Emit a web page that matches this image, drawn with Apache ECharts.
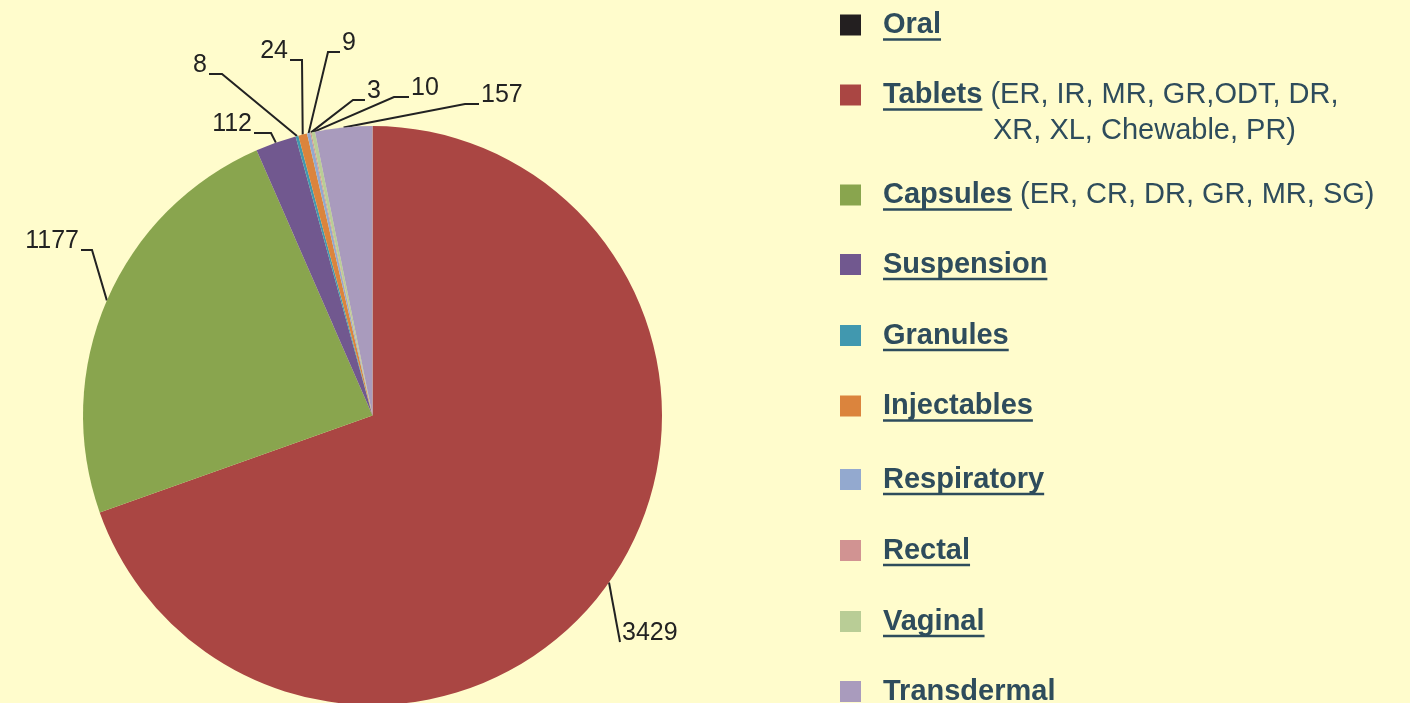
<!DOCTYPE html>
<html>
<head>
<meta charset="utf-8">
<script src="https://cdn.jsdelivr.net/npm/echarts@6/dist/echarts.min.js"></script>
<style>
  html, body { margin: 0; padding: 0; background: #fffccc; }
  #main { width: 1410px; height: 703px; }
</style>
</head>
<body>
<div id="main"></div>
<script>
  // data
  const categories = ['Oral', 'Tablets', 'Capsules', 'Suspension', 'Granules', 'Injectables',
    'Respiratory', 'Rectal', 'Vaginal', 'Transdermal'];
  const values = [0, 3429, 1177, 112, 8, 24, 9, 3, 10, 157];
  const notes = ['', '(ER, IR, MR, GR,ODT, DR,', '(ER, CR, DR, GR, MR, SG)', '', '', '', '', '', '', ''];
  const notesLine2 = ['', 'XR, XL, Chewable, PR)', '', '', '', '', '', '', '', ''];

  // style
  const colors = ['#231f20', '#aa4643', '#89a54e', '#71588f', '#4198af', '#db843d',
    '#93a9cf', '#d19392', '#b9cd96', '#a99bbd'];
  const FONT = '"Liberation Sans", Arial, sans-serif';
  const legendColor = '#2e4c5c';
  const legendLeft = 840;
  const legendCenters = [25, 95, 195, 264.5, 335.5, 406, 479.5, 550.5, 621.5, 691.5];
  // label text anchor: x, y (middle), align, elbow length
  const labelPos = [null, [622, 633, 'left', 0], [79, 241, 'right', 11], [252, 124, 'right', 17],
    [207, 65, 'right', 13], [288, 51, 'right', 12], [342, 43, 'left', 12],
    [367, 91, 'left', 12], [411, 88, 'left', 15], [481, 95, 'left', 14]];

  const chart = echarts.init(document.getElementById('main'));

  const measure = (() => {
    const ctx = document.createElement('canvas').getContext('2d');
    return (txt, font) => { ctx.font = font; return ctx.measureText(txt).width; };
  })();

  const legends = categories.map((name, i) => {
    const twoLine = notesLine2[i] !== '';
    const lh = twoLine ? 36 : 20;
    return {
      left: legendLeft,
      top: legendCenters[i] - 14.5,
      orient: 'vertical',
      padding: 0,
      itemWidth: 21,
      itemHeight: 21,
      selectedMode: false,
      data: [{ name, icon: 'rect' }],
      formatter: n => {
        let s = '{b|' + n + '}';
        if (notes[i]) s += '{n| ' + notes[i] + '}';
        if (twoLine) s += '\n{ind| }{n|' + notesLine2[i] + '}';
        return s;
      },
      textStyle: {
        color: legendColor,
        fontFamily: FONT,
        fontSize: 29,
        padding: twoLine ? [36, 0, 0, 17] : [0, 0, 0, 17],
        rich: {
          b: { fontWeight: 'bold', fontSize: 29, fontFamily: FONT, color: legendColor, lineHeight: lh },
          n: { fontSize: 29, fontFamily: FONT, color: legendColor, lineHeight: lh },
          ind: { width: 110, lineHeight: lh }
        }
      }
    };
  });

  const underlines = categories.map((name, i) => {
    const x1 = legendLeft + 21 + 5 + 17;
    const w = measure(name, 'bold 29px ' + FONT);
    const y = legendCenters[i] + 14.5;
    return {
      type: 'line',
      shape: { x1, y1: y, x2: x1 + w, y2: y },
      style: { stroke: legendColor, lineWidth: 2.5 },
      silent: true
    };
  });

  const option = {
    backgroundColor: '#fffccc',
    animation: false,
    color: colors,
    legend: legends,
    graphic: underlines,
    series: [{
      type: 'pie',
      center: [372.5, 415.5],
      radius: 289.5,
      startAngle: 90,
      clockwise: true,
      avoidLabelOverlap: false,
      itemStyle: { borderWidth: 0 },
      emphasis: { disabled: true },
      label: {
        show: true,
        position: 'outside',
        formatter: '{c}',
        color: '#222',
        fontSize: 25,
        fontFamily: FONT
      },
      labelLine: {
        show: true,
        length: 20,
        length2: 10,
        lineStyle: { color: '#222', width: 2 }
      },
      labelLayout: params => {
        const p = labelPos[params.dataIndex];
        if (!p) return {};
        const [x, y, align, elbow] = p;
        const endX = x + (align === 'left' ? -2 : 2);
        const endY = y + 9;
        const elbowX = endX + (align === 'left' ? -elbow : elbow);
        const out = { x, y, align, verticalAlign: 'middle' };
        if (params.labelLinePoints) {
          out.labelLinePoints = [params.labelLinePoints[0], [elbowX, endY], [endX, endY]];
        }
        return out;
      },
      data: categories.map((name, i) => {
        const item = { name, value: values[i] };
        if (values[i] === 0) {
          item.label = { show: false };
          item.labelLine = { show: false };
        }
        return item;
      })
    }]
  };

  chart.setOption(option);
</script>
</body>
</html>
